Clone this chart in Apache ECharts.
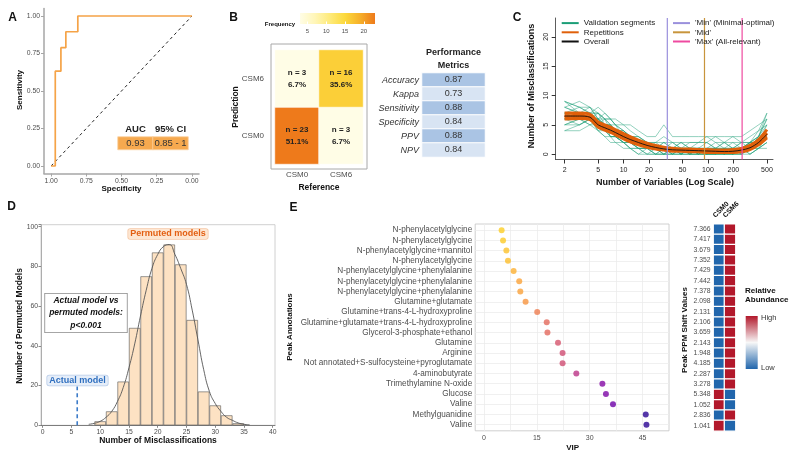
<!DOCTYPE html>
<html><head><meta charset="utf-8">
<script src="https://cdn.jsdelivr.net/npm/echarts@6/dist/echarts.min.js"></script>
<style>html,body{margin:0;padding:0;background:#fff}#c{width:800px;height:457px}</style>
</head><body><div id="c"></div>
<script>
// ---------- Panel A : ROC ----------
const rocSpecificity = [1.00, 0.97, 0.93, 0.895, 0.81, 0.00];
const rocSensitivity = [0.00, 0.632, 0.789, 0.895, 1.00, 1.00];
const rocTicks = [0, 0.25, 0.5, 0.75, 1];
const aucHeader = ['AUC', '95% CI'];
const aucTexts = ['0.93', '0.85 - 1'];

// ---------- Panel B : confusion matrix ----------
const cmClasses = ['CSM0', 'CSM6'];
const cmReference = [0, 1, 0, 1];
const cmPrediction = [0, 0, 1, 1];
const cmCounts = [23, 3, 3, 16];
const freqTicks = [5, 10, 15, 20];
const metricNames = ['Accuracy', 'Kappa', 'Sensitivity', 'Specificity', 'PPV', 'NPV'];
const metricValues = [0.87, 0.73, 0.88, 0.84, 0.88, 0.84];

// ---------- Panel C : misclassifications vs number of variables ----------
const nVars = [2,3,4,5,6,7,8,10,12,15,19,24,30,38,48,61,77,97,123,156,197,249,315,398,500];
const validationSegments = [
  [9,8,8,7,6,6,5,4,3,3,2,1,1,0,1,0,1,0,0,1,0,1,2,3,6],
  [4,5,6,5,4,3,3,2,2,1,1,0,0,1,0,1,0,1,1,0,1,0,1,2,4],
  [7,7,6,6,5,4,4,3,2,2,1,1,2,1,1,0,0,0,1,0,0,1,1,3,5],
  [6,6,7,5,5,4,3,3,3,2,2,1,1,0,0,1,1,1,0,0,1,0,2,2,3],
  [8,7,6,4,3,2,2,1,1,1,0,0,1,1,0,0,1,0,0,1,0,1,0,1,2],
  [5,6,5,6,5,5,4,4,3,2,2,1,0,1,1,1,0,1,1,1,1,2,1,2,4],
  [7,6,6,7,6,5,5,3,2,1,1,1,1,2,1,1,2,2,1,1,2,1,1,3,7],
  [6,7,7,8,7,6,5,5,4,3,2,2,3,2,2,2,2,3,2,2,3,2,3,4,5],
  [5,5,6,4,4,3,3,2,1,1,0,0,0,0,0,0,0,0,0,0,0,0,0,1,1],
  [9,8,7,7,6,6,6,5,5,4,3,3,5,3,3,3,3,3,3,3,3,3,4,5,6],
  [6,5,6,6,4,4,3,2,2,2,1,1,1,1,1,1,1,0,1,1,1,1,1,2,3],
  [7,8,7,5,5,3,3,2,1,0,0,1,0,0,1,0,0,1,0,1,0,0,1,1,2],
  [8,9,8,6,5,5,4,3,3,2,1,2,1,1,2,1,1,1,2,1,1,1,2,2,5],
  [4,4,5,4,3,3,2,2,1,0,1,0,1,0,0,1,0,0,1,0,1,1,0,1,3],
  [6,7,6,5,6,4,4,3,2,2,2,1,2,1,2,1,1,2,1,2,1,2,2,3,6],
  [5,6,7,7,5,5,4,4,3,2,1,1,1,1,0,1,1,1,1,0,1,1,2,2,4],
  [7,6,5,5,4,4,3,2,2,1,1,0,0,0,1,0,0,0,0,0,0,1,1,2,3],
  [8,7,8,6,7,6,5,4,3,3,2,2,2,2,1,2,2,2,3,2,2,2,2,4,7],
  [6,6,6,6,5,3,3,3,2,1,1,1,0,1,0,0,1,0,0,0,0,0,1,1,2],
  [9,7,7,6,6,5,4,3,3,2,2,1,1,1,1,1,0,1,1,2,1,1,2,3,4]
];
const repetitions = [
  [7.0,7.0,6.8,5.5,5.0,4.6,4.2,3.5,3.0,2.4,1.9,1.5,1.2,1.0,0.9,0.9,0.8,0.8,0.7,0.7,0.8,1.0,1.5,2.5,4.2],
  [6.0,6.1,5.9,4.6,4.1,3.7,3.3,2.6,2.1,1.6,1.2,0.9,0.7,0.5,0.5,0.4,0.4,0.3,0.3,0.3,0.3,0.4,0.8,1.6,2.8],
  [6.6,6.4,6.4,5.2,4.4,4.2,3.6,2.9,2.6,2.1,1.4,1.1,0.8,0.8,0.6,0.7,0.6,0.6,0.5,0.4,0.5,0.8,1.0,1.9,3.6],
  [6.3,6.7,6.2,4.9,4.7,4.0,3.8,3.1,2.4,1.9,1.6,1.2,1.0,0.7,0.8,0.6,0.7,0.5,0.5,0.5,0.4,0.6,1.2,2.2,3.0]
];
const overall = [6.5,6.5,6.3,5.0,4.5,4.1,3.7,3.0,2.5,2.0,1.5,1.15,0.9,0.75,0.7,0.65,0.6,0.55,0.5,0.45,0.5,0.7,1.1,2.0,3.4];
const selectionNames = ["'Min' (Minimal-optimal)", "'Mid'", "'Max' (All-relevant)"];
const selectionVars = [33, 91, 254];
const cTicks = [2, 5, 10, 20, 50, 100, 200, 500];
const cYTicks = [0, 5, 10, 15, 20];

// ---------- Panel D : permutation histogram ----------
const binCenters = [10,12,14,16,18,20,22,24,26,28,30,32,34];
const binCounts  = [2,7,22,49,75,87,91,81,53,17,10,5,1];
const densityX = [8,9,10,11,12,13,14,15,16,17,18,19,20,21,22,23,24,25,26,27,28,29,30,31,32,33,34,35,36];
const densityY = [0.5,1,2,4,7,12,19,29,41,55,68,79,86,90,91,86,79,71,58,43,28,17,11,7,4,2.5,1.2,0.5,0.2];
const actualModel = 6;
const dTicks = [0,5,10,15,20,25,30,35,40];

// ---------- Panel E : VIP + heatmap ----------
const peakAnnotations = [
  'N-phenylacetylglycine','N-phenylacetylglycine','N-phenylacetylglycine+mannitol','N-phenylacetylglycine',
  'N-phenylacetylglycine+phenylalanine','N-phenylacetylglycine+phenylalanine','N-phenylacetylglycine+phenylalanine',
  'Glutamine+glutamate','Glutamine+trans-4-L-hydroxyproline','Glutamine+glutamate+trans-4-L-hydroxyproline',
  'Glycerol-3-phosphate+ethanol','Glutamine','Arginine','Not annotated+S-sulfocysteine+pyroglutamate',
  '4-aminobutyrate','Trimethylamine N-oxide','Glucose','Valine','Methylguanidine','Valine'];
const vipValues = [5.0,5.4,6.35,6.8,8.4,10.0,10.3,11.8,15.1,17.8,18.0,21.0,22.3,22.3,26.2,33.6,34.6,36.6,45.9,46.1];
const ppmShifts = ['7.366','7.417','3.679','7.352','7.429','7.442','7.378','2.098','2.131','2.106','3.659','2.143','1.948','4.185','2.287','3.278','5.348','1.052','2.836','1.041'];
const abundanceCSM0 = [-1,-1,-1,-1,-1,-1,-1,-1,-1,-1,-1,-1,-1,-1,-1,-1, 1, 1,-1, 1];
const abundanceCSM6 = [ 1, 1, 1, 1, 1, 1, 1, 1, 1, 1, 1, 1, 1, 1, 1, 1,-1,-1, 1,-1];
const heatColumns = ['CSM0', 'CSM6'];
const vipTicks = [0, 15, 30, 45];
const vipGrid = [0, 7.5, 15, 22.5, 30, 37.5, 45];

// ================= build =================
const F = 'Liberation Sans, Arial, sans-serif';
const TG = '#4d4d4d';
const chart = echarts.init(document.getElementById('c'));
const grid = [], xAxis = [], yAxis = [], series = [];
function add(s) { series.push(s); return series.length - 1; }
const noSplit = { show: false };
const hideAx = { axisLine: { show: false }, axisTick: { show: false }, axisLabel: { show: false }, splitLine: { show: false } };

// Grid 0: A plot
grid.push({ left: 44, top: 8.5, width: 155, height: 165 });
xAxis.push({ gridIndex: 0, type: 'value', inverse: true, min: -0.05, max: 1.05,
  axisLine: { show: true, onZero: false, lineStyle: { color: '#a6a6a6', width: 1.5 } },
  axisTick: { show: true, customValues: rocTicks, length: 3, lineStyle: { color: '#a6a6a6' } },
  axisLabel: { customValues: rocTicks, formatter: v => v.toFixed(2), fontSize: 6.8, color: TG, margin: 4 },
  splitLine: noSplit });
yAxis.push({ gridIndex: 0, type: 'value', min: -0.05, max: 1.05,
  axisLine: { show: true, onZero: false, lineStyle: { color: '#a6a6a6', width: 1.5 } },
  axisTick: { show: true, customValues: rocTicks, length: 3, lineStyle: { color: '#a6a6a6' } },
  axisLabel: { customValues: rocTicks, formatter: v => v.toFixed(2), fontSize: 6.8, color: TG, margin: 4 },
  splitLine: noSplit });
add({ type: 'line', xAxisIndex: 0, yAxisIndex: 0, data: [[1, 0], [0, 1]], symbol: 'none', silent: true,
  lineStyle: { color: '#222', width: 1, type: [3, 3] } });
add({ type: 'line', xAxisIndex: 0, yAxisIndex: 0, step: 'end', symbol: 'none',
  data: rocSpecificity.map((s, i) => [s, rocSensitivity[i]]),
  lineStyle: { color: '#f5a347', width: 1.7 } });

// Grid 1: AUC table
grid.push({ left: 118, top: 137, width: 70, height: 12.5 });
xAxis.push({ gridIndex: 1, type: 'category', data: aucHeader, position: 'top',
  axisLine: { show: false }, axisTick: { show: false },
  axisLabel: { interval: 0, fontWeight: 'bold', fontSize: 9.5, color: '#222', margin: 3 } });
yAxis.push(Object.assign({ gridIndex: 1, type: 'category', data: [''] }, hideAx));
add({ type: 'heatmap', xAxisIndex: 1, yAxisIndex: 1,
  data: aucTexts.map((t, i) => ({ value: [i, 0, i + 1], itemStyle: { color: '#f6a94f', borderColor: '#fbd2a2', borderWidth: 0.8 } })),
  label: { show: true, formatter: p => aucTexts[p.dataIndex], fontSize: 9.5, color: '#333' } });

// Grid 2: confusion heatmap
grid.push({ left: 275, top: 50, width: 88, height: 114 });
xAxis.push({ gridIndex: 2, type: 'category', data: cmClasses,
  axisLine: { show: false }, axisTick: { show: false },
  axisLabel: { interval: 0, fontSize: 8, color: TG, margin: 7 } });
yAxis.push({ gridIndex: 2, type: 'category', data: cmClasses,
  axisLine: { show: false }, axisTick: { show: false },
  axisLabel: { interval: 0, fontSize: 8, color: TG, margin: 11 } });
const cmTotal = cmCounts.reduce((a, b) => a + b, 0);
const idxCM = add({ type: 'heatmap', xAxisIndex: 2, yAxisIndex: 2,
  data: cmCounts.map((n, i) => [cmReference[i], cmPrediction[i], n]),
  itemStyle: { borderColor: '#fff', borderWidth: 0.6 },
  label: { show: true, fontWeight: 'bold', fontSize: 8, color: '#222', lineHeight: 12,
    formatter: p => 'n = ' + p.value[2] + '\n' + (p.value[2] / cmTotal * 100).toFixed(1) + '%' } });

// Grid 3: frequency colorbar
const freqColors = ['#fffde6', '#fff6b8', '#feea7a', '#fcd93c', '#f6b02a', '#ee7a1b'];
grid.push({ left: 300, top: 13, width: 75, height: 11, show: true, borderWidth: 0,
  backgroundColor: { type: 'linear', x: 0, y: 0, x2: 1, y2: 0,
    colorStops: freqColors.map((c, i) => ({ offset: i / (freqColors.length - 1), color: c })) } });
xAxis.push({ gridIndex: 3, type: 'value', min: 3, max: 23,
  axisLine: { show: false },
  axisTick: { show: true, inside: true, customValues: freqTicks, length: 2.5, lineStyle: { color: '#fff' } },
  axisLabel: { customValues: freqTicks, fontSize: 6, color: TG, margin: 4 }, splitLine: noSplit });
yAxis.push(Object.assign({ gridIndex: 3, type: 'value', min: 0, max: 1 }, hideAx));

// Grid 4: metrics table
grid.push({ left: 422, top: 73, width: 63, height: 84 });
xAxis.push({ gridIndex: 4, type: 'category', data: ['Performance\nMetrics'], position: 'top',
  axisLine: { show: false }, axisTick: { show: false },
  axisLabel: { fontWeight: 'bold', fontSize: 9, lineHeight: 13, color: '#222', margin: 1 } });
yAxis.push({ gridIndex: 4, type: 'category', data: metricNames, inverse: true,
  axisLine: { show: false }, axisTick: { show: false },
  axisLabel: { interval: 0, fontStyle: 'italic', fontSize: 9, color: '#333', margin: 3 } });
add({ type: 'heatmap', xAxisIndex: 4, yAxisIndex: 4,
  data: metricValues.map((v, i) => ({ value: [0, i, v], itemStyle: { color: i % 2 ? '#d8e4f3' : '#aac4e4', borderColor: '#fff', borderWidth: 1 } })),
  label: { show: true, formatter: p => p.value[2].toFixed(2), fontSize: 9, color: '#333' } });

// Grid 5: Panel C
const cLog = v => Math.log10(v);
grid.push({ left: 555.7, top: 18, width: 217.3, height: 141.5 });
xAxis.push({ gridIndex: 5, type: 'value', min: cLog(1.57), max: cLog(590),
  axisLine: { show: true, onZero: false, lineStyle: { color: '#333', width: 0.8 } },
  axisTick: { show: true, customValues: cTicks.map(cLog), length: 4, lineStyle: { color: '#333' } },
  axisLabel: { customValues: cTicks.map(cLog), formatter: v => String(Math.round(Math.pow(10, v))), fontSize: 7, color: '#222', margin: 7 },
  splitLine: noSplit });
yAxis.push({ gridIndex: 5, type: 'value', min: -0.9, max: 23.2,
  axisLine: { show: true, onZero: false, lineStyle: { color: '#333', width: 0.8 } },
  axisTick: { show: true, customValues: cYTicks, length: 4, lineStyle: { color: '#333' } },
  axisLabel: { customValues: cYTicks, rotate: 90, fontSize: 7, color: '#222', margin: 6 },
  splitLine: noSplit });
validationSegments.forEach(seg => add({ type: 'line', name: 'Validation segments', xAxisIndex: 5, yAxisIndex: 5,
  symbol: 'none', silent: true, data: seg.map((v, i) => [cLog(nVars[i]), v]),
  lineStyle: { color: 'rgba(27,158,119,0.6)', width: 0.8 }, itemStyle: { color: '#1b9e77' } }));
repetitions.forEach(rep => add({ type: 'line', name: 'Repetitions', xAxisIndex: 5, yAxisIndex: 5,
  symbol: 'none', smooth: 0.3, silent: true, data: rep.map((v, i) => [cLog(nVars[i]), v]),
  lineStyle: { color: '#e0600a', width: 3 }, itemStyle: { color: '#e0600a' } }));
add({ type: 'line', name: 'Overall', xAxisIndex: 5, yAxisIndex: 5, symbol: 'none', smooth: 0.3, silent: true,
  data: overall.map((v, i) => [cLog(nVars[i]), v]), lineStyle: { color: '#111', width: 0.9 }, itemStyle: { color: '#111' } });
const selColors = ['#9a90dc', '#c8953c', '#ee4aa0'];
selectionVars.forEach((n, k) => add({ type: 'line', name: selectionNames[k], xAxisIndex: 5, yAxisIndex: 5,
  symbol: 'none', silent: true, data: [[cLog(n), -0.9], [cLog(n), 23.2]],
  lineStyle: { color: selColors[k], width: 1.2 }, itemStyle: { color: selColors[k] } }));

// Grid 6: Panel D
grid.push({ left: 41, top: 224.7, width: 234, height: 200.6, show: true, borderColor: '#c4c4c4', borderWidth: 0.8 });
xAxis.push({ gridIndex: 6, type: 'value', min: -0.3, max: 40.4,
  axisLine: { show: true, onZero: false, lineStyle: { color: '#666', width: 0.8 } },
  axisTick: { show: true, customValues: dTicks, length: 2.5, lineStyle: { color: '#888' } },
  axisLabel: { customValues: dTicks, fontSize: 6.8, color: TG, margin: 3 }, splitLine: noSplit });
yAxis.push({ gridIndex: 6, type: 'value', min: 0, max: 101, interval: 20,
  axisLine: { show: true, onZero: false, lineStyle: { color: '#9e9e9e', width: 0.8 } },
  axisTick: { show: true, length: 2.5, lineStyle: { color: '#888' } },
  axisLabel: { fontSize: 6.8, color: TG, margin: 3, formatter: v => (v > 100 ? '' : v) }, splitLine: noSplit });
add({ type: 'bar', xAxisIndex: 6, yAxisIndex: 6, barWidth: 11.5,
  data: binCenters.map((c, i) => [c, binCounts[i]]),
  itemStyle: { color: '#fde2c3', borderColor: '#555', borderWidth: 0.6 } });
add({ type: 'line', xAxisIndex: 6, yAxisIndex: 6, smooth: true, symbol: 'none',
  data: densityX.map((x, i) => [x, densityY[i]]), lineStyle: { color: '#555', width: 0.9 } });
add({ type: 'line', xAxisIndex: 6, yAxisIndex: 6, symbol: 'none',
  data: [[actualModel, 0], [actualModel, 19.5]], lineStyle: { color: '#3d7cc9', width: 1.6, type: [4, 3] } });

// Grid 7: E VIP dot plot
const rowIdx = peakAnnotations.map((_, i) => i);
grid.push({ left: 475.2, top: 224, width: 193.8, height: 206.8, show: true, borderColor: '#c4c4c4', borderWidth: 0.8 });
xAxis.push({ gridIndex: 7, type: 'value', min: -2.5, max: 52.5,
  axisLine: { show: false },
  axisTick: { show: false, customValues: vipGrid },
  axisLabel: { customValues: vipTicks, fontSize: 7, color: TG, margin: 4 },
  splitLine: { show: true, lineStyle: { color: '#ececec', width: 0.8 } } });
yAxis.push({ gridIndex: 7, type: 'value', min: -0.6, max: 19.6, inverse: true,
  axisLine: { show: false },
  axisTick: { show: false, customValues: rowIdx },
  axisLabel: { customValues: rowIdx, formatter: v => peakAnnotations[Math.round(v)], fontSize: 8.2, color: TG, margin: 3 },
  splitLine: { show: true, lineStyle: { color: '#ececec', width: 0.8 } } });
const idxVIP = add({ type: 'scatter', xAxisIndex: 7, yAxisIndex: 7, symbolSize: 6,
  data: vipValues.map((v, i) => [v, i]) });

// Grid 8: E heatmap
grid.push({ left: 713.5, top: 224, width: 22, height: 206.8, show: true, borderColor: '#c8c8c8', borderWidth: 0.8 });
xAxis.push({ gridIndex: 8, type: 'category', data: heatColumns, position: 'top',
  axisLine: { show: false }, axisTick: { show: false }, axisLabel: { show: false } });
yAxis.push({ gridIndex: 8, type: 'category', data: ppmShifts, inverse: true,
  axisLine: { show: false }, axisTick: { show: false },
  axisLabel: { interval: 0, fontSize: 6.8, color: TG, margin: 3 } });
const heatData = [];
ppmShifts.forEach((_, i) => { heatData.push([0, i, abundanceCSM0[i]]); heatData.push([1, i, abundanceCSM6[i]]); });
const idxHeat = add({ type: 'heatmap', xAxisIndex: 8, yAxisIndex: 8, data: heatData,
  itemStyle: { borderColor: '#fff', borderWidth: 1.3 } });

// Grid 9: abundance legend gradient
const abColors = ['#2166ac', '#f7f7f7', '#b2182b'];
grid.push({ left: 745.7, top: 316, width: 12, height: 53, show: true, borderWidth: 0,
  backgroundColor: { type: 'linear', x: 0, y: 1, x2: 0, y2: 0,
    colorStops: abColors.map((c, i) => ({ offset: i / 2, color: c })) } });
xAxis.push(Object.assign({ gridIndex: 9, type: 'value', min: 0, max: 1 }, hideAx));
yAxis.push(Object.assign({ gridIndex: 9, type: 'value', min: 0, max: 1 }, hideAx));

// ---------- text ----------
function T(x, y, s, o) {
  o = o || {};
  return { type: 'text', x: x, y: y, rotation: o.rot || 0, silent: true, z: 50,
    style: Object.assign({ text: s, fill: o.fill || '#111', align: o.align || 'center', verticalAlign: o.va || 'middle',
      textAlign: o.align || 'center', textVerticalAlign: o.va || 'middle',
      font: (o.font || 'bold 9px') + ' ' + F }, o.style || {}) };
}
const R = Math.PI / 2;
const graphic = [
  { type: 'rect', shape: { x: 271, y: 44, width: 96, height: 125 }, silent: true,
    style: { fill: 'none', stroke: '#a8a8a8', lineWidth: 1 } },
  T(12.5, 17.5, 'A', { font: 'bold 12px' }),
  T(233.5, 17.5, 'B', { font: 'bold 12px' }),
  T(517, 17.5, 'C', { font: 'bold 12px' }),
  T(11.5, 207, 'D', { font: 'bold 12px' }),
  T(293.5, 208, 'E', { font: 'bold 12px' }),
  T(20, 90, 'Sensitivity', { rot: R, font: 'bold 8px' }),
  T(121.5, 188.5, 'Specificity', { font: 'bold 8px' }),
  T(280, 24.5, 'Frequency', { font: 'bold 6px' }),
  T(236, 107, 'Prediction', { rot: R, font: 'bold 8.5px' }),
  T(319, 187.5, 'Reference', { font: 'bold 8.5px' }),
  T(531.5, 86, 'Number of Misclassifications', { rot: R, font: 'bold 9px' }),
  T(665, 182.5, 'Number of Variables (Log Scale)', { font: 'bold 9px' }),
  T(19.5, 326, 'Number of Permuted Models', { rot: R, font: 'bold 8.5px' }),
  T(158, 441, 'Number of Misclassifications', { font: 'bold 8.5px' }),
  T(168, 234, 'Permuted models', { font: 'bold 9px', fill: '#e35f12',
    style: { backgroundColor: '#fde6d2', borderColor: '#f6c8a6', borderWidth: 0.8, borderRadius: 2, padding: [1, 2, 0, 2] } }),
  T(77.5, 380.5, 'Actual model', { font: 'bold 9px', fill: '#2f6fbf',
    style: { backgroundColor: '#e6eef9', borderColor: '#b9cce8', borderWidth: 0.8, borderRadius: 2, padding: [1, 2, 0, 2] } }),
  T(86, 313, 'Actual model vs\npermuted models:\np<0.001', { font: 'italic bold 8.5px', fill: '#111',
    style: { lineHeight: 12.5, backgroundColor: '#fff', borderColor: '#888', borderWidth: 0.8, padding: [1, 4, 0, 4] } }),
  T(290, 327, 'Peak Annotations', { rot: R, font: 'bold 8px' }),
  T(572.7, 448, 'VIP', { font: 'bold 8px' }),
  T(685, 330, 'Peak PPM Shift Values', { rot: R, font: 'bold 8px' }),
  T(716.5, 219, heatColumns[0], { rot: Math.PI / 4, align: 'left', va: 'bottom', font: 'bold 7px' }),
  T(726.5, 219, heatColumns[1], { rot: Math.PI / 4, align: 'left', va: 'bottom', font: 'bold 7px' }),
  T(745, 295.5, 'Relative\nAbundance', { align: 'left', font: 'bold 8px', style: { lineHeight: 9.5 } }),
  T(761, 318, 'High', { align: 'left', font: '7.5px', fill: '#333' }),
  T(761, 368, 'Low', { align: 'left', font: '7.5px', fill: '#333' })
];

const plasma = ['#fcce25', '#fca636', '#f2844b', '#e16462', '#cc4778', '#b12a90', '#8f0da4', '#6a00a8', '#41049d', '#2a0593'];

chart.setOption({
  animation: false,
  textStyle: { fontFamily: F },
  grid: grid, xAxis: xAxis, yAxis: yAxis, series: series, graphic: graphic,
  legend: [
    { left: 561.7, top: 18.5, padding: 0, orient: 'vertical', selectedMode: false, itemWidth: 17, itemHeight: 2, itemGap: 0, icon: 'rect',
      data: ['Validation segments', 'Repetitions', 'Overall'], textStyle: { fontSize: 8, color: '#222', lineHeight: 9.2 } },
    { left: 673, top: 18.5, padding: 0, orient: 'vertical', selectedMode: false, itemWidth: 17, itemHeight: 2, itemGap: 0, icon: 'rect',
      data: selectionNames, textStyle: { fontSize: 8, color: '#222', lineHeight: 9.2 } }
  ],
  visualMap: [
    { type: 'continuous', show: false, seriesIndex: idxCM, dimension: 2, min: 3, max: 23, inRange: { color: freqColors } },
    { type: 'continuous', show: false, seriesIndex: idxVIP, dimension: 0, min: 5, max: 46.1, inRange: { color: plasma } },
    { type: 'continuous', show: false, seriesIndex: idxHeat, dimension: 2, min: -1, max: 1, inRange: { color: abColors } }
  ]
});
</script></body></html>
